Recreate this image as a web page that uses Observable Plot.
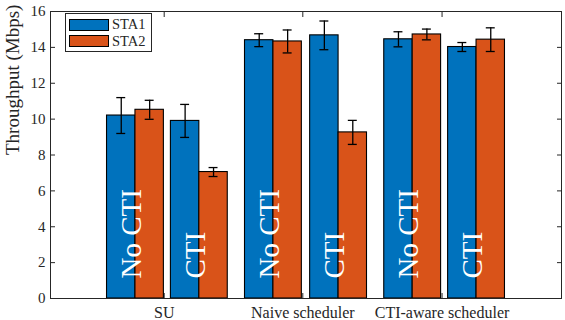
<!DOCTYPE html>
<html>
<head>
<meta charset="utf-8">
<script src="https://cdn.jsdelivr.net/npm/d3@7"></script>
<script src="https://cdn.jsdelivr.net/npm/@observablehq/plot@0.6"></script>
<style>
  body { margin: 0; background: #fff; }
  #wrap { position: relative; width: 565px; height: 320px; font-family: "Liberation Serif", serif; }
  #legend { position: absolute; left: 65px; top: 13px; width: 87px; height: 39px; box-sizing: border-box;
            border: 1px solid #262626; background: #fff; }
  .item { position: absolute; left: 3px; height: 13px; display: flex; align-items: center; }
  .sw { width: 40px; height: 12px; box-sizing: border-box; border: 1px solid #000; }
  .lab { margin-left: 3px; font-size: 14.5px; color: #262626; line-height: 13px; }
</style>
</head>
<body>
<div id="wrap"></div>
<script>
// ---- data ----
const groups = ["SU", "Naive scheduler", "CTI-aware scheduler"];
const conditions = ["No CTI", "CTI", "No CTI", "CTI", "No CTI", "CTI"];
const positions = [1.33, 2.33, 3.49, 4.51, 5.67, 6.67];   // subgroup positions on x axis
const groupTicks = [1.78, 3.95, 6.13];                    // group label positions
const series = ["STA1", "STA2"];
const colors = ["#0072BD", "#D95319"];
const sta1 = [10.2, 9.9, 14.4, 14.67, 14.45, 14.02];
const sta1Err = [1.0, 0.92, 0.36, 0.8, 0.42, 0.25];
const sta2 = [10.52, 7.05, 14.33, 9.26, 14.72, 14.43];
const sta2Err = [0.53, 0.25, 0.64, 0.67, 0.3, 0.66];
const yTicks = [0, 2, 4, 6, 8, 10, 12, 14, 16];
const yLabel = "Throughput (Mbps)";

// ---- table ----
const barW = 0.445, capW = 0.07;
const rows = [];
positions.forEach((p, i) => {
  rows.push({sta: "STA1", x1: p - barW, x2: p, c: p - barW / 2, v: sta1[i], e: sta1Err[i]});
  rows.push({sta: "STA2", x1: p, x2: p + barW, c: p + barW / 2, v: sta2[i], e: sta2Err[i]});
});
const caps = rows.flatMap(r => [{c: r.c, y: r.v - r.e}, {c: r.c, y: r.v + r.e}]);
const condRows = positions.map((p, i) => ({p, t: conditions[i]}));
const tickName = new Map(groupTicks.map((t, i) => [t, groups[i]]));
const ink = "#262626";

const chart = Plot.plot({
  width: 565, height: 320,
  marginLeft: 50, marginRight: 4, marginTop: 11, marginBottom: 22,
  style: {fontFamily: "Liberation Serif, serif", color: ink, background: "white"},
  x: {domain: [0, 8]},
  y: {domain: [0, 16]},
  color: {domain: series, range: colors},
  marks: [
    Plot.axisY({ticks: yTicks, tickSize: 5, dx: 5, tickPadding: 5, fontSize: 15, label: null}),
    Plot.axisY({anchor: "right", ticks: yTicks, tickSize: 5, dx: -5, tickFormat: () => "", label: null}),
    Plot.axisX({anchor: "bottom", ticks: groupTicks, tickSize: 5, dy: -5, tickPadding: 8, fontSize: 16,
                tickFormat: d => tickName.get(d), label: null}),
    Plot.axisX({anchor: "top", ticks: groupTicks, tickSize: 5, dy: 5, tickFormat: () => "", label: null}),
    Plot.rect(rows, {x1: "x1", x2: "x2", y1: 0, y2: "v", fill: "sta", stroke: "black", strokeWidth: 1.1}),
    Plot.ruleX(rows, {x: "c", y1: d => d.v - d.e, y2: d => d.v + d.e, stroke: "black", strokeWidth: 1.3}),
    Plot.ruleY(caps, {y: "y", x1: d => d.c - capW, x2: d => d.c + capW, stroke: "black", strokeWidth: 1.3}),
    Plot.text(condRows, {x: "p", y: 0, text: "t", rotate: -90, textAnchor: "start", lineAnchor: "middle",
                         dx: -3.5, dy: -20, fill: "white", fontSize: 29}),
    Plot.text([yLabel], {text: d => d, frameAnchor: "left", rotate: -90, lineAnchor: "middle",
                         dx: -38, fontSize: 19}),
    Plot.frame({stroke: ink})
  ]
});
const wrap = document.getElementById("wrap");
wrap.appendChild(chart);

// legend
const leg = document.createElement("div");
leg.id = "legend";
series.forEach((s, i) => {
  const it = document.createElement("div");
  it.className = "item";
  it.style.top = (4 + i * 16.5) + "px";
  it.innerHTML = `<div class="sw" style="background:${colors[i]}"></div><div class="lab">${s}</div>`;
  leg.appendChild(it);
});
wrap.appendChild(leg);
</script>
</body>
</html>
